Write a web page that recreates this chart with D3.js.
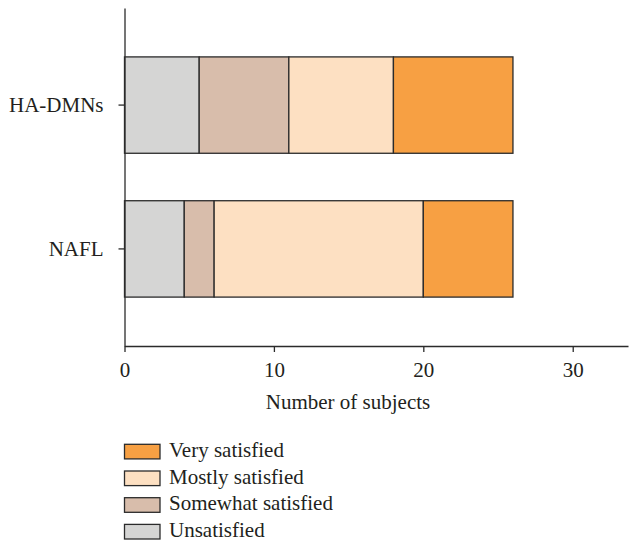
<!DOCTYPE html>
<html><head><meta charset="utf-8">
<script src="https://cdn.jsdelivr.net/npm/d3@7"></script>
<style>body{margin:0;background:#fff}svg text{font-family:'Liberation Serif','Tinos','Times New Roman','DejaVu Serif',serif !important;fill:#231f20}</style>
</head><body>
<svg id="c" width="629" height="543"></svg>
<script>
const categories = ["HA-DMNs", "NAFL"];
const seriesNames = ["Unsatisfied", "Somewhat satisfied", "Mostly satisfied", "Very satisfied"];
const unsatisfied = [5, 4];
const somewhatSatisfied = [6, 2];
const mostlySatisfied = [7, 14];
const verySatisfied = [8, 6];
const xTicks = [0, 10, 20, 30];
const colors = ["#d5d5d4", "#d8bdab", "#fde0c2", "#f7a043"];
const legendOrder = ["Very satisfied", "Mostly satisfied", "Somewhat satisfied", "Unsatisfied"];

const rows = categories.map((c, i) => ({
  cat: c,
  "Unsatisfied": unsatisfied[i],
  "Somewhat satisfied": somewhatSatisfied[i],
  "Mostly satisfied": mostlySatisfied[i],
  "Very satisfied": verySatisfied[i]
}));
const stack = d3.stack().keys(seriesNames)(rows);
const color = d3.scaleOrdinal().domain(seriesNames).range(colors);

const FS = 21;
const svg = d3.select("#c");
const x = d3.scaleLinear().domain([0, 33.7]).range([124.5, 628]);
const y = d3.scaleBand().domain(categories).range([8, 346]).paddingInner(0.33).paddingOuter(0.34);

svg.append("g").selectAll("g").data(stack).join("g")
  .attr("fill", d => color(d.key))
  .selectAll("rect").data(d => d).join("rect")
  .attr("x", d => x(d[0])).attr("width", d => x(d[1]) - x(d[0]))
  .attr("y", d => y(d.data.cat)).attr("height", y.bandwidth())
  .attr("stroke", "#2b2b2b").attr("stroke-width", 1.3);

const xa = svg.append("g").attr("transform", "translate(0,346)")
  .call(d3.axisBottom(x).tickValues(xTicks).tickSize(6).tickPadding(10).tickSizeOuter(0));
const ya = svg.append("g").attr("transform", "translate(124.5,0)")
  .call(d3.axisLeft(y).tickSize(6).tickPadding(15).tickSizeOuter(0));
[xa, ya].forEach(a => {
  a.attr("font-family", null);
  a.selectAll("path,line").attr("stroke", "#2b2b2b").attr("stroke-width", 1.3);
  a.selectAll("text").attr("font-size", FS).attr("fill", "#231f20");
});

svg.append("text").attr("x", 348).attr("y", 409).attr("text-anchor", "middle")
  .attr("font-size", FS).text("Number of subjects");

const lg = svg.append("g").selectAll("g").data(legendOrder).join("g")
  .attr("transform", (d, i) => `translate(124.5,${451.6 + i * 26.7})`);
lg.append("rect").attr("x", 0).attr("y", -7.3).attr("width", 35.5).attr("height", 14.6)
  .attr("fill", d => color(d)).attr("stroke", "#2b2b2b").attr("stroke-width", 1.3);
lg.append("text").attr("x", 44.5).attr("y", 5.2).attr("font-size", FS).text(d => d);
</script>
</body></html>
